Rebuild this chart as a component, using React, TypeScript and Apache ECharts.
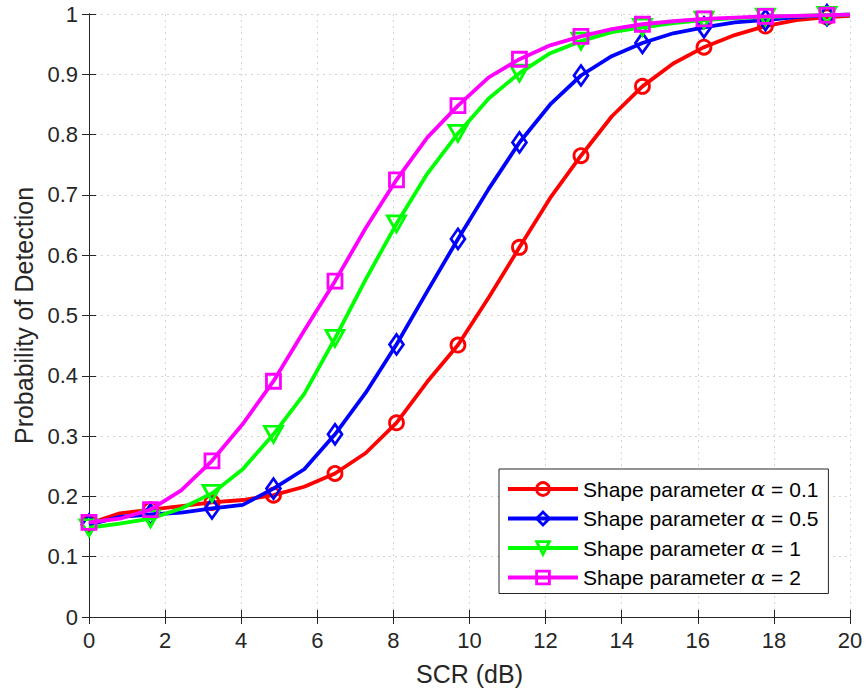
import React, { useEffect, useRef } from "react";
import * as echarts from "echarts";

// x samples (dB); markers drawn at even indices
const scrValues = [
  0, 0.808, 1.616, 2.424, 3.232, 4.04, 4.848, 5.657, 6.465, 7.273, 8.081, 8.889, 9.697,
  10.505, 11.313, 12.121, 12.929, 13.737, 14.545, 15.354, 16.162, 16.97, 17.778, 18.586,
  19.394, 20,
];

const pdAlpha01 = [
  0.155, 0.172, 0.178, 0.184, 0.19, 0.194, 0.202, 0.216, 0.238, 0.272, 0.322, 0.39, 0.451,
  0.53, 0.613, 0.695, 0.765, 0.83, 0.88, 0.918, 0.945, 0.965, 0.98, 0.99, 0.995, 0.997,
];
const pdAlpha05 = [
  0.153, 0.166, 0.17, 0.173, 0.18, 0.186, 0.213, 0.245, 0.303, 0.372, 0.452, 0.54, 0.627,
  0.71, 0.787, 0.85, 0.898, 0.93, 0.952, 0.968, 0.978, 0.986, 0.99, 0.995, 0.998, 0.999,
];
const pdAlpha1 = [
  0.148, 0.155, 0.163, 0.18, 0.205, 0.245, 0.303, 0.37, 0.462, 0.56, 0.652, 0.735, 0.802,
  0.86, 0.902, 0.935, 0.955, 0.97, 0.978, 0.985, 0.99, 0.993, 0.995, 0.997, 0.998, 0.999,
];
const pdAlpha2 = [
  0.157, 0.163, 0.178, 0.21, 0.259, 0.32, 0.391, 0.475, 0.557, 0.645, 0.725, 0.795, 0.848,
  0.895, 0.925, 0.948, 0.963, 0.975, 0.983, 0.988, 0.992, 0.994, 0.996, 0.997, 0.998, 0.999,
];

const seriesNames = [
  "Shape parameter α = 0.1",
  "Shape parameter α = 0.5",
  "Shape parameter α = 1",
  "Shape parameter α = 2",
];
const seriesColors = ["#ff0000", "#0000ff", "#00ff00", "#ff00ff"];
const seriesSymbols = ["circle", "diamond", "triangle", "rect"];
const seriesSymbolSizes: (number | number[])[] = [14, [14, 20], [18, 16], 14];
const seriesSymbolRotate = [0, 0, 180, 0];
const seriesValues = [pdAlpha01, pdAlpha05, pdAlpha1, pdAlpha2];

const xTicks = [0, 2, 4, 6, 8, 10, 12, 14, 16, 18, 20];

const FONT = "'Liberation Sans', Arial, Helvetica, sans-serif";

export default function App() {
  const ref = useRef<HTMLDivElement>(null);
  useEffect(() => {
    if (!ref.current) return;
    const chart = echarts.init(ref.current, null, { renderer: "svg" });
    const axisCol = "#262626";
    const split = { show: true, lineStyle: { color: "#d4d4d4", type: [2, 4] as any, width: 1 } };
    const series = seriesValues.map((vals, si) => ({
      type: "line",
      name: seriesNames[si],
      xAxisIndex: 0,
      yAxisIndex: 0,
      symbol: seriesSymbols[si],
      symbolSize: seriesSymbolSizes[si],
      symbolRotate: seriesSymbolRotate[si],
      showSymbol: true,
      showAllSymbol: true,
      lineStyle: { color: seriesColors[si], width: 3.8 },
      itemStyle: { color: "rgba(255,255,255,0)", borderColor: seriesColors[si], borderWidth: 2.8 },
      z: 2 + si,
      data: vals.map((v, i) =>
        i % 2 === 0 && i < 25 ? [scrValues[i], v] : { value: [scrValues[i], v], symbol: "none" }
      ),
    }));
    chart.setOption({
      animation: false,
      backgroundColor: "#fff",
      grid: { left: 89, top: 14, right: 16, bottom: 74 },
      xAxis: [
        {
          type: "value",
          min: 0,
          max: 20,
          interval: 2,
          name: "SCR (dB)",
          nameLocation: "middle",
          nameGap: 44,
          nameTextStyle: { fontFamily: FONT, fontSize: 25, color: "#262626" },
          axisLine: { show: true, lineStyle: { color: axisCol, width: 1 } },
          axisTick: { show: true, inside: true, length: 7, lineStyle: { color: axisCol } },
          axisLabel: {
            fontFamily: FONT,
            fontSize: 22,
            color: "#262626",
            margin: 12,
            formatter: (v: number) => (xTicks.includes(v) ? String(v) : ""),
          },
          splitLine: split,
        },
        {
          type: "value",
          position: "top",
          min: 0,
          max: 20,
          interval: 2,
          axisLine: { show: true, lineStyle: { color: axisCol, width: 1 } },
          axisTick: { show: true, inside: true, length: 7, lineStyle: { color: axisCol } },
          axisLabel: { show: false },
          splitLine: { show: false },
        },
      ],
      yAxis: [
        {
          type: "value",
          min: 0,
          max: 1,
          interval: 0.1,
          name: "Probability of Detection",
          nameLocation: "middle",
          nameGap: 53,
          nameTextStyle: { fontFamily: FONT, fontSize: 25, color: "#262626" },
          axisLine: { show: true, lineStyle: { color: axisCol, width: 1 } },
          axisTick: { show: true, inside: true, length: 7, lineStyle: { color: axisCol } },
          axisLabel: {
            fontFamily: FONT,
            fontSize: 22,
            color: "#262626",
            margin: 11,
            formatter: (v: number) => String(Math.round(v * 10) / 10),
          },
          splitLine: split,
        },
        {
          type: "value",
          position: "right",
          min: 0,
          max: 1,
          interval: 0.1,
          axisLine: { show: true, lineStyle: { color: axisCol, width: 1 } },
          axisTick: { show: true, inside: true, length: 7, lineStyle: { color: axisCol } },
          axisLabel: { show: false },
          splitLine: { show: false },
        },
      ],
      legend: {
        orient: "vertical",
        left: 499,
        top: 469,
        itemWidth: 70,
        itemHeight: 16,
        itemGap: 5.5,
        padding: [8, 10, 4, 7],
        backgroundColor: "#fff",
        borderColor: "#262626",
        borderWidth: 1,
        borderRadius: 0,
        lineStyle: { width: 4 },
        itemStyle: { borderWidth: 2.8 },
        data: seriesNames,
        formatter: (name: string) => {
          const parts = name.split("α");
          return parts[0] + "{a|α}" + parts[1];
        },
        textStyle: {
          fontFamily: FONT,
          fontSize: 21,
          color: "#000",
          lineHeight: 24,
          rich: {
            a: { fontFamily: "'DejaVu Serif', serif", fontStyle: "italic", fontSize: 21, color: "#000", lineHeight: 24 },
          },
        },
      },
      series,
    });
    return () => chart.dispose();
  }, []);
  return (
    <div
      ref={ref}
      style={{ position: "absolute", left: 0, top: 0, width: 866, height: 691 }}
    />
  );
}
